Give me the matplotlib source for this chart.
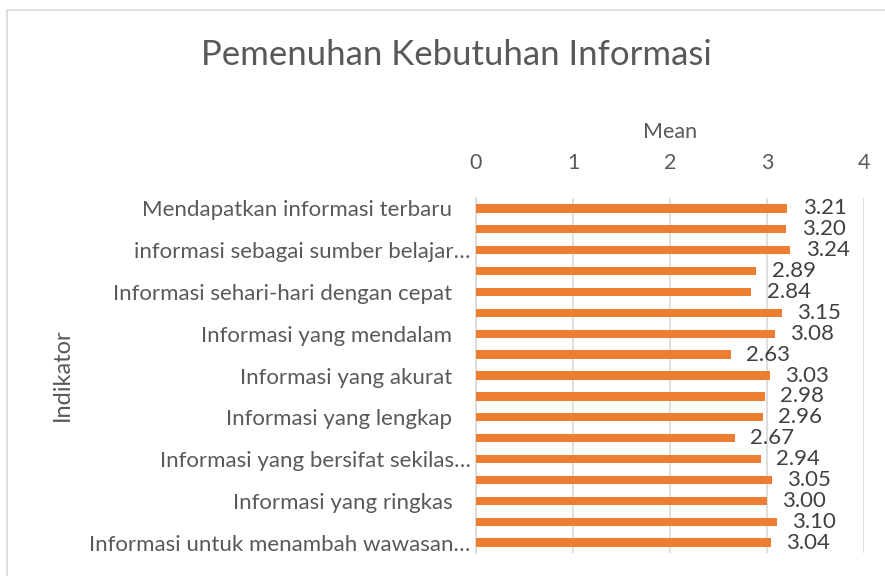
import matplotlib
matplotlib.use("Agg")
import matplotlib.pyplot as plt
from matplotlib.patches import Rectangle

plt.rcParams["font.family"] = ["Lato", "DejaVu Sans"]

# data, top to bottom as shown in the chart
indikator = [
    "Mendapatkan informasi terbaru",
    "",
    "informasi sebagai sumber belajar…",
    "",
    "Informasi sehari-hari dengan cepat",
    "",
    "Informasi yang mendalam",
    "",
    "Informasi yang akurat",
    "",
    "Informasi yang lengkap",
    "",
    "Informasi yang bersifat sekilas…",
    "",
    "Informasi yang ringkas",
    "",
    "Informasi untuk menambah wawasan…",
]
mean = [3.21, 3.20, 3.24, 2.89, 2.84, 3.15, 3.08, 2.63, 3.03,
        2.98, 2.96, 2.67, 2.94, 3.05, 3.00, 3.10, 3.04]
x_ticks = [0, 1, 2, 3, 4]

text_col = "#595959"
bar_col = "#ED7D31"
grid_col = "#D9D9D9"

fig = plt.figure(figsize=(8.85, 5.76), dpi=100)
ax = fig.add_axes([476 / 885, 1 - 553 / 576, 388 / 885, 355 / 576])

# chart border
fig.patches.append(Rectangle((7 / 885, -0.1), 1.1, 1 - 10 / 576 + 0.1,
                             transform=fig.transFigure, fill=False,
                             edgecolor="#D9D9D9", linewidth=1.2))

pos = list(range(len(mean)))
bars = ax.barh(pos, mean, height=0.4, color=bar_col, zorder=3)
ax.bar_label(bars, labels=[f"{v:.2f}" for v in mean], padding=11,
             fontsize=16, color="#404040")

ax.set_xlim(0, 4)
ax.set_ylim(16.5, -0.5)
ax.set_xticks(x_ticks)
ax.xaxis.tick_top()
ax.xaxis.set_label_position("top")
ax.tick_params(axis="x", length=0, labelsize=15.5, labelcolor=text_col, pad=18)
ax.grid(axis="x", color=grid_col, linewidth=1.2, zorder=0)
ax.set_yticks(pos)
ax.set_yticklabels(indikator)
ax.tick_params(axis="y", length=0, labelsize=16, labelcolor=text_col)
for tick, lab in zip(ax.yaxis.get_major_ticks(), indikator):
    tick.set_pad(4 if lab.endswith("…") else 17)

for side in ["top", "right", "bottom"]:
    ax.spines[side].set_visible(False)
ax.spines["left"].set_color(grid_col)
ax.spines["left"].set_linewidth(1.2)

ax.set_xlabel("Mean", fontsize=15.5, color=text_col, labelpad=11)
fig.text(62 / 885, 1 - 375 / 576, "Indikator", rotation=90, fontsize=17,
         color=text_col, ha="center", va="center")
fig.text(456 / 885, 1 - 55 / 576, "Pemenuhan Kebutuhan Informasi",
         fontsize=25, color=text_col, ha="center", va="center")

fig.savefig("out.png", dpi=100, facecolor="white")
